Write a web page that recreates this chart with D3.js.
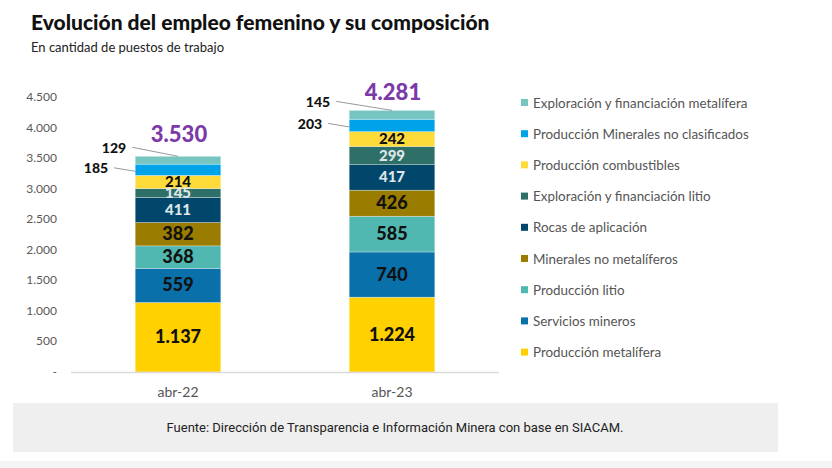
<!DOCTYPE html>
<html>
<head>
<meta charset="utf-8">
<script src="https://cdn.jsdelivr.net/npm/d3@7"></script>
<style>
  body { margin: 0; background: #fff; }
  svg { display: block; font-family: "Lato", "Open Sans", sans-serif; }
</style>
</head>
<body>
<svg id="chart" width="832" height="468"></svg>
<script>
// data
var periods = ["abr-22", "abr-23"];
var sectors = [
  "Producción metalífera",
  "Servicios mineros",
  "Producción litio",
  "Minerales no metalíferos",
  "Rocas de aplicación",
  "Exploración y financiación litio",
  "Producción combustibles",
  "Producción Minerales no clasificados",
  "Exploración y financiación metalífera"
];
var values_2022 = [1137, 559, 368, 382, 411, 145, 214, 185, 129];
var values_2023 = [1224, 740, 585, 426, 417, 299, 242, 203, 145];
var y_ticks = [0, 500, 1000, 1500, 2000, 2500, 3000, 3500, 4000, 4500];

var colors = ["#ffd100", "#0a70aa", "#50b8b0", "#9a7d00", "#00476b",
              "#2e7068", "#ffdb3a", "#00a3e8", "#76c5c0"];
// which segments get light text
var light_text = [false, false, false, false, true, true, false, false, false];
// the two top segments are labelled outside the bar
var outside = [false, false, false, false, false, false, false, true, true];
// nudges for the outside top label and the total, per bar
var top_label_gap = [9, 19];
var total_gap = [14, 10];

var svg = d3.select("#chart");
var fmt = d3.formatLocale({decimal: ",", thousands: ".", grouping: [3], currency: ["$", ""]}).format(",d");

// title
svg.append("text").attr("x", 31).attr("y", 30)
    .style("font-size", "21px").style("font-weight", 900).style("fill", "#111")
    .text("Evolución del empleo femenino y su composición");
svg.append("text").attr("x", 31).attr("y", 52)
    .style("font-size", "13px").style("fill", "#222")
    .text("En cantidad de puestos de trabajo");

var rows = periods.map(function(p, i) {
    var vals = i === 0 ? values_2022 : values_2023;
    var row = {period: p};
    sectors.forEach(function(s, j) { row[s] = vals[j]; });
    return row;
});
var series = d3.stack().keys(sectors)(rows);

var x = d3.scaleBand().domain(periods).range([71, 499]).paddingInner(0.6).paddingOuter(0.3);
var y = d3.scaleLinear().domain([0, 4500]).range([372, 97]);

// y axis labels
svg.append("g").selectAll("text").data(y_ticks).join("text")
    .attr("x", 57).attr("y", function(d) { return y(d) + 4; })
    .attr("text-anchor", "end")
    .style("font-size", "12px").style("fill", "#595959")
    .text(function(d) { return d === 0 ? "-" : fmt(d); });

// bars
var groups = svg.append("g").selectAll("g").data(series).join("g")
    .attr("fill", function(d, i) { return colors[i]; });
groups.selectAll("rect").data(function(d) { return d; }).join("rect")
    .attr("x", function(d) { return x(d.data.period); })
    .attr("width", x.bandwidth())
    .attr("y", function(d) { return y(d[1]); })
    .attr("height", function(d) { return y(d[0]) - y(d[1]); })
    .attr("stroke", "#fff").attr("stroke-opacity", 0.5).attr("stroke-width", 0.6);

// base line
svg.append("line").attr("x1", 71).attr("x2", 499).attr("y1", 372.5).attr("y2", 372.5)
    .attr("stroke", "#d9d9d9").attr("stroke-width", 1.5);

// labels inside segments
series.forEach(function(s, i) {
    s.forEach(function(d, b) {
        var cx = x(d.data.period) + x.bandwidth() / 2;
        var v = d[1] - d[0];
        var left = x(d.data.period);
        var ym = (y(d[0]) + y(d[1])) / 2;
        if (!outside[i]) {
            var big = v >= 360 && !light_text[i];
            svg.append("text")
                .attr("x", cx).attr("y", ym + (big ? 6 : 5))
                .attr("text-anchor", "middle")
                .style("font-size", big ? "18px" : "15px").style("font-weight", 900)
                .style("fill", light_text[i] ? "#dfe6ea" : "#111")
                .text(fmt(v));
        } else {
            var tx, ty;
            if (i === 8) {
                // label above-left, leader to the top centre of the bar
                tx = left - top_label_gap[b];
                ty = y(d[1]) - 8;
                svg.append("line").attr("x1", tx + 6).attr("y1", ty - 1).attr("x2", cx).attr("y2", y(d[1]))
                    .attr("stroke", "#999").attr("stroke-width", 1);
            } else {
                tx = left - 27;
                ty = ym - 1.5;
                svg.append("line").attr("x1", tx + 6).attr("y1", ym - 2).attr("x2", left).attr("y2", ym + 1.5)
                    .attr("stroke", "#999").attr("stroke-width", 1);
            }
            svg.append("text").attr("x", tx).attr("y", ty + 5)
                .attr("text-anchor", "end")
                .style("font-size", "14px").style("font-weight", 900).style("fill", "#111")
                .text(fmt(v));
        }
    });
});

// totals
rows.forEach(function(r, i) {
    var total = d3.sum(sectors, function(s) { return r[s]; });
    svg.append("text")
        .attr("x", x(r.period) + x.bandwidth() / 2 + 1).attr("y", y(total) - total_gap[i])
        .attr("text-anchor", "middle")
        .style("font-size", "22px").style("font-weight", 900).style("fill", "#7b3aa8")
        .text(fmt(total));
});

// category labels
svg.append("g").selectAll("text").data(periods).join("text")
    .attr("x", function(d) { return x(d) + x.bandwidth() / 2; }).attr("y", 397)
    .attr("text-anchor", "middle")
    .style("font-size", "14px").style("fill", "#555")
    .text(function(d) { return d; });

// legend, top of stack first
var legend = svg.append("g").selectAll("g").data(sectors.slice().reverse()).join("g")
    .attr("transform", function(d, i) { return "translate(521," + (103 + i * 31.2) + ")"; });
legend.append("rect").attr("x", 0).attr("y", -4).attr("width", 7).attr("height", 7)
    .attr("fill", function(d) { return colors[sectors.indexOf(d)]; });
legend.append("text").attr("x", 12).attr("y", 4.5)
    .style("font-size", "13.4px").style("fill", "#555")
    .text(function(d) { return d; });

// source box
svg.append("rect").attr("x", 13).attr("y", 403).attr("width", 765).attr("height", 49).attr("fill", "#efefef");
svg.append("text").attr("x", 395).attr("y", 432).attr("text-anchor", "middle")
    .style("font-family", "'Liberation Sans Narrow', 'Roboto', sans-serif")
    .style("font-size", "13px").style("fill", "#222")
    .text("Fuente: Dirección de Transparencia e Información Minera con base en SIACAM.");
svg.append("rect").attr("x", 0).attr("y", 461).attr("width", 832).attr("height", 7).attr("fill", "#f4f4f4");
</script>
</body>
</html>
